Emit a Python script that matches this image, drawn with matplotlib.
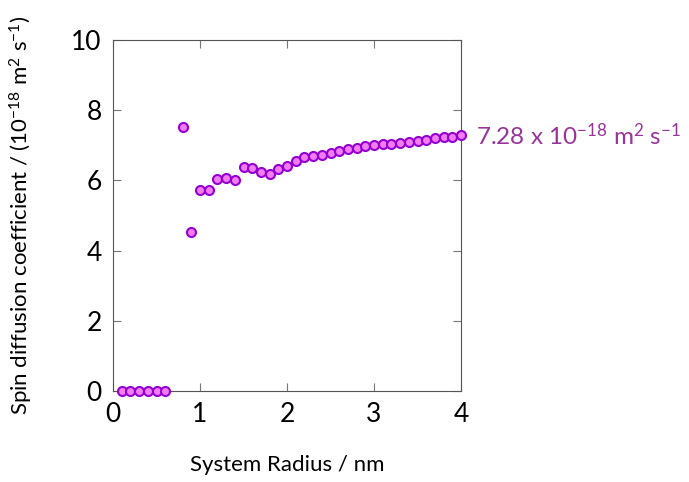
import matplotlib
matplotlib.use("Agg")
import matplotlib.pyplot as plt

plt.rcParams['font.family'] = ['Lato', 'DejaVu Sans']
plt.rcParams['mathtext.default'] = 'regular'

radius = [0.1, 0.2, 0.3, 0.4, 0.5, 0.6, 0.8, 0.9, 1.0, 1.1, 1.2, 1.3, 1.4,
          1.5, 1.6, 1.7, 1.8, 1.9, 2.0, 2.1, 2.2, 2.3, 2.4, 2.5, 2.6, 2.7,
          2.8, 2.9, 3.0, 3.1, 3.2, 3.3, 3.4, 3.5, 3.6, 3.7, 3.8, 3.9, 4.0]
diff_coef = [0, 0, 0, 0, 0, 0, 7.53, 4.52, 5.73, 5.73, 6.04, 6.07, 6.01,
             6.39, 6.34, 6.25, 6.18, 6.32, 6.42, 6.54, 6.67, 6.69, 6.73, 6.79,
             6.85, 6.90, 6.92, 6.97, 7.02, 7.03, 7.04, 7.07, 7.10, 7.12, 7.16,
             7.20, 7.23, 7.24, 7.28]
final_label = "7.28 x 10$^{-18}$ m$^{2}$ s$^{-1}$"

fig = plt.figure(figsize=(6.89, 4.82), dpi=100)
ax = fig.add_axes([113/689, 1 - 391/482, 348/689, 351/482])

ax.plot(radius, diff_coef, 'o', ms=6.5, mfc='#f27cf2', mec='#9400d3', mew=1.5,
        clip_on=False, zorder=3)

ax.set_xlim(0, 4)
ax.set_ylim(0, 10)
ax.set_xticks([0, 1, 2, 3, 4])
ax.set_yticks([0, 2, 4, 6, 8, 10])
ax.tick_params(direction='in', length=6, top=True, right=True, labelsize=19,
               color='#777777', pad=8)
for s in ax.spines.values():
    s.set_color('#555555')

ax.set_xlabel('System Radius / nm', fontsize=16, labelpad=20)
ax.set_ylabel('Spin diffusion coefficient / (10$^{-18}$ m$^{2}$ s$^{-1}$)', fontsize=16,
              labelpad=26)

ax.annotate(final_label, xy=(radius[-1], diff_coef[-1]), xytext=(11, 0),
            textcoords='offset points', va='center', ha='left',
            color='#993399', fontsize=17.5, annotation_clip=False)

fig.savefig('out.png', dpi=100)
